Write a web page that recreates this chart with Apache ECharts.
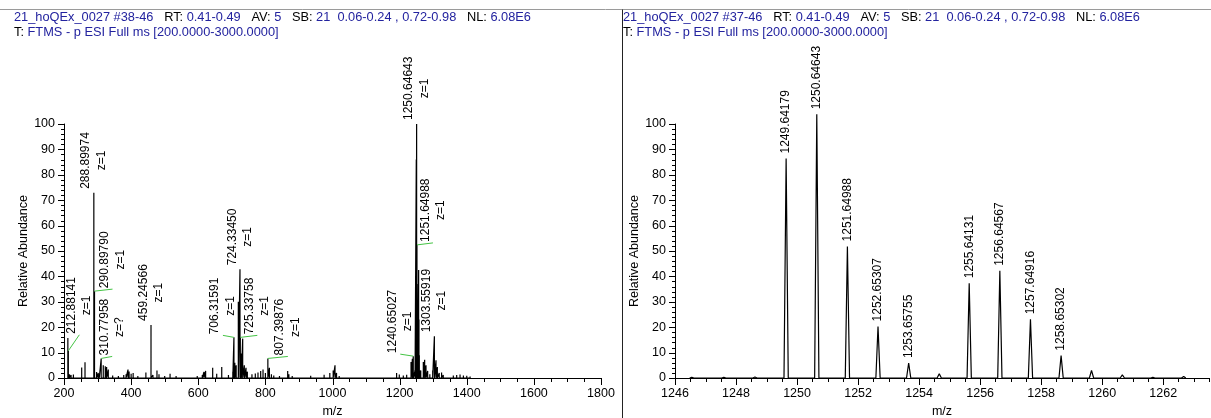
<!DOCTYPE html>
<html><head><meta charset="utf-8">
<script src="https://cdn.jsdelivr.net/npm/echarts@6/dist/echarts.min.js"></script>
<style>html,body{margin:0;padding:0;background:#fff}#c{width:1211px;height:418px}</style>
</head><body><div id="c"></div>
<script>
// ---------- data ----------
const leftMz = [211.5, 216, 221, 228, 252.7, 262.6, 297, 302, 305, 317, 323, 327, 332, 345, 362, 378, 385, 390.7, 394, 400, 406, 420, 444, 465, 477, 483, 500, 516, 534, 552, 570, 597, 612, 617, 622, 643, 655, 670, 690, 703, 709, 713, 719.4, 728.4, 732.4, 737.3, 742.3, 746.3, 760, 770, 778, 786, 793, 800, 812, 818, 825, 842, 866.5, 870, 880, 905, 935, 962, 975, 992, 1002, 1007.5, 1012, 1020, 1060, 1102, 1150, 1191, 1199, 1211, 1221, 1234, 1238, 1246, 1249.64, 1252.65, 1253.66, 1255.64, 1256.65, 1257.65, 1258.65, 1259.65, 1263, 1270.6, 1274.6, 1278.6, 1283.6, 1290, 1298.5, 1308.4, 1312.4, 1318, 1325, 1330, 1345, 1360, 1370, 1380, 1390, 1400, 1410];
const leftInt = [15.7, 1.5, 1.2, 1.4, 4.1, 6.2, 2.4, 2.0, 1.5, 5.0, 4.6, 4.3, 3.3, 1.0, 0.8, 1.2, 1.5, 3.3, 2.6, 1.7, 2.0, 0.8, 2.2, 1.2, 3.0, 1.5, 0.8, 1.7, 0.8, 0.7, 0.6, 0.8, 1.2, 2.4, 2.8, 4.0, 1.7, 4.3, 1.2, 2.5, 6.0, 5.0, 30.0, 9.6, 15.5, 5.0, 4.0, 2.5, 1.5, 1.8, 2.2, 2.8, 3.3, 2.0, 4.0, 1.5, 1.0, 0.8, 2.8, 1.5, 0.8, 0.6, 0.9, 0.6, 1.3, 2.0, 3.0, 5.0, 2.0, 0.8, 0.5, 0.6, 0.5, 2.0, 1.4, 1.0, 1.3, 6.3, 7.6, 3.0, 86.0, 20.0, 6.0, 37.0, 42.5, 23.0, 9.0, 3.0, 3.0, 6.3, 7.2, 5.0, 2.8, 1.5, 3.0, 7.0, 4.3, 2.0, 2.2, 1.2, 0.7, 1.0, 1.2, 1.4, 1.0, 0.9, 0.6];
const leftLabelMz = [212.88141, 288.89974, 290.89790, 310.77958, 459.24566, 706.31591, 724.33450, 725.33758, 807.39876, 1240.65027, 1250.64643, 1251.64988, 1303.55919];
const leftLabelInt = [10.7, 72.9, 34.2, 7.7, 20.9, 16.0, 42.8, 16.0, 7.7, 8.6, 100, 52.4, 16.4];
const leftLabelZ = ['z=1', 'z=1', 'z=1', 'z=?', 'z=1', 'z=1', 'z=1', 'z=1', 'z=1', 'z=1', 'z=1', 'z=1', 'z=1'];

const rightMz = [1246.55, 1247.6, 1248.62, 1254.66, 1259.65, 1260.66, 1261.66, 1262.67];
const rightInt = [0.3, 0.3, 0.4, 1.7, 3.0, 1.2, 0.3, 0.6];
const rightLabelMz = [1249.64179, 1250.64643, 1251.64988, 1252.65307, 1253.65755, 1255.64131, 1256.64567, 1257.64916, 1258.65302];
const rightLabelInt = [86.4, 103.8, 51.8, 20.3, 5.9, 37.3, 42.2, 23.1, 8.8];

// Axis ticks (major labels) and minor tick steps
const leftXTicks = [200, 400, 600, 800, 1000, 1200, 1400, 1600, 1800];
const rightXTicks = [1246, 1248, 1250, 1252, 1254, 1256, 1258, 1260, 1262];
const yTicks = [0, 10, 20, 30, 40, 50, 60, 70, 80, 90, 100];
const leftXMinorStep = 50, rightXMinorStep = 0.5, yMinorStep = 2;
const rightXMax = 1263.5;

const headerLeft = ['21_hoQEx_0027 #38-46', '0.41-0.49', '5', '21  0.06-0.24 , 0.72-0.98', '6.08E6'];
const headerRight = ['21_hoQEx_0027 #37-46', '0.41-0.49', '5', '21  0.06-0.24 , 0.72-0.98', '6.08E6'];
const headerScan = 'FTMS - p ESI Full ms [200.0000-3000.0000]';

// ---------- layout / style ----------
const FF = "'Liberation Sans', Arial, Helvetica, sans-serif";
const BLUE = '#23239f';
const GREEN = '#45c445';
const leftLeaders = {0: [11, -16], 2: [18, -2], 3: [11, -2], 5: [-11, -2], 7: [17, -2], 8: [20, -2], 9: [-13, -2], 11: [16, -2]};

function sticks(mz, it) {
  const idx = mz.map((_, i) => i).sort((a, b) => mz[a] - mz[b]);
  const d = [];
  idx.forEach(i => { d.push([mz[i], 0], [mz[i], it[i]], [mz[i], 0]); });
  return d;
}
function profile(mz, it, w) {
  const idx = mz.map((_, i) => i).sort((a, b) => mz[a] - mz[b]);
  const d = [];
  idx.forEach(i => { d.push([mz[i] - w, 0], [mz[i], it[i]], [mz[i] + w, 0]); });
  return d;
}
const richLbl = {
  m: {fontSize: 12, fontFamily: FF, fill: '#000', align: 'center', lineHeight: 15.5},
  z: {fontSize: 12, fontFamily: FF, fill: '#000', align: 'center', lineHeight: 15.5}
};
function labelSeries(g, mzArr, intArr, textFn, leaders, gap) {
  return {
    type: 'custom', xAxisIndex: g, yAxisIndex: g, clip: false, silent: true, z: 5, animation: false,
    data: mzArr.map((m, i) => [m, intArr[i], i]),
    renderItem(params, api) {
      const i = api.value(2);
      const p = api.coord([api.value(0), api.value(1)]);
      const off = leaders[i];
      const children = [];
      let ax = p[0], ay = p[1] - gap;
      if (off) {
        const ex = p[0] + off[0], ey = p[1] + off[1];
        children.push({type: 'line', shape: {x1: p[0], y1: p[1], x2: ex, y2: ey}, style: {stroke: GREEN, lineWidth: 1}});
        ax = ex; ay = ey - 1;
      }
      children.push({type: 'text', x: ax, y: ay, rotation: Math.PI / 2,
        style: {text: textFn(i), rich: richLbl, align: 'left', verticalAlign: 'middle', fontSize: 12, fontFamily: FF, fill: '#000'}});
      return {type: 'group', children};
    }
  };
}

// tick marks placed through the axes' scales: items [x, y, kind]
// kind 0/1: x major/minor at (v, yMin); kind 2/3: y major/minor at (xMin, v)
function tickData(xT, xMax, xStep, yT, yStep) {
  const d = [], xMin = xT[0], yMin = yT[0];
  xT.forEach(v => d.push([v, yMin, 0]));
  for (let k = 0; xMin + k * xStep <= xMax + 1e-9; k++) {
    const v = +(xMin + k * xStep).toFixed(6);
    if (!xT.includes(v)) d.push([v, yMin, 1]);
  }
  yT.forEach(v => d.push([xMin, v, 2]));
  for (let k = 0; yMin + k * yStep <= yT[yT.length - 1] + 1e-9; k++) {
    const v = +(yMin + k * yStep).toFixed(6);
    if (!yT.includes(v)) d.push([xMin, v, 3]);
  }
  return d;
}
const TICK_LEN = [7, 4, 6, 3];
function tickSeries(g, xT, xMax, xStep) {
  return {
    type: 'custom', xAxisIndex: g, yAxisIndex: g, clip: false, silent: true, z: 6, animation: false,
    data: tickData(xT, xMax, xStep, yTicks, yMinorStep),
    renderItem(params, api) {
      const kind = api.value(2);
      const p = api.coord([api.value(0), api.value(1)]);
      const len = TICK_LEN[kind];
      if (kind < 2) {
        const x = Math.round(p[0]) + 0.5, y = Math.round(p[1]);
        return {type: 'line', shape: {x1: x, y1: y, x2: x, y2: y + len}, style: {stroke: '#000', lineWidth: 1}};
      }
      const y = Math.round(p[1]) + 0.5, x = Math.round(p[0]);
      return {type: 'line', shape: {x1: x - len, y1: y, x2: x, y2: y}, style: {stroke: '#000', lineWidth: 1}};
    }
  };
}

function xAxisMain(g, ticks, max) {
  return {
    type: 'value', gridIndex: g, position: 'bottom', min: ticks[0], max: max, interval: ticks[1] - ticks[0],
    axisLine: {show: true, onZero: false, lineStyle: {color: '#000', width: 1}},
    axisTick: {show: false},
    axisLabel: {color: '#000', fontSize: 12.5, fontFamily: FF, margin: 9, formatter: v => String(v),
      showMaxLabel: max === ticks[ticks.length - 1]},
    splitLine: {show: false},
    name: 'm/z', nameLocation: 'middle', nameGap: 25,
    nameTextStyle: {color: '#000', fontSize: 12.5, fontFamily: FF}
  };
}
function yAxisMain(g) {
  return {
    type: 'value', gridIndex: g, position: 'left', min: yTicks[0], max: yTicks[yTicks.length - 1], interval: yTicks[1] - yTicks[0],
    axisLine: {show: true, onZero: false, lineStyle: {color: '#000', width: 1}},
    axisTick: {show: false},
    axisLabel: {color: '#000', fontSize: 12.5, fontFamily: FF, margin: 9, formatter: v => String(v)},
    splitLine: {show: false},
    name: 'Relative Abundance', nameLocation: 'middle', nameGap: 30,
    nameTextStyle: {color: '#000', fontSize: 12.5, fontFamily: FF}
  };
}
function headerText(x, h) {
  const richH = {b: {fill: BLUE, fontSize: 12.8, fontFamily: FF}, k: {fill: '#000', fontSize: 12.8, fontFamily: FF}};
  return [
    {type: 'text', left: x, top: 11, silent: true,
      style: {text: `{b|${h[0]}}   {k|RT:} {b|${h[1]}}   {k|AV:} {b|${h[2]}}   {k|SB:} {b|${h[3]}}   {k|NL:} {b|${h[4]}}`, rich: richH, fontSize: 12.8, fontFamily: FF}},
    {type: 'text', left: x, top: 26, silent: true,
      style: {text: `{k|T:} {b|${headerScan}}`, rich: richH, fontSize: 12.8, fontFamily: FF}}
  ];
}
const chart = echarts.init(document.getElementById('c'), null, {renderer: 'canvas'});
chart.setOption({
  animation: false,
  backgroundColor: '#fff',
  grid: [
    {left: 64, top: 124, width: 537, height: 254, outerBoundsMode: 'none'},
    {left: 675, top: 124, width: 534, height: 254, outerBoundsMode: 'none'}
  ],
  xAxis: [xAxisMain(0, leftXTicks, leftXTicks[leftXTicks.length - 1]), xAxisMain(1, rightXTicks, rightXMax)],
  yAxis: [yAxisMain(0), yAxisMain(1)],
  graphic: [
    {type: 'line', shape: {x1: 0, y1: 9.5, x2: 1211, y2: 9.5}, style: {stroke: '#9a9a9a', lineWidth: 1}, silent: true},
    {type: 'line', shape: {x1: 622.5, y1: 9.5, x2: 622.5, y2: 418}, style: {stroke: '#222', lineWidth: 1}, silent: true},
    ...headerText(14, headerLeft),
    ...headerText(623, headerRight)
  ],
  series: [
    {type: 'line', xAxisIndex: 0, yAxisIndex: 0, data: sticks(leftMz.concat(leftLabelMz), leftInt.concat(leftLabelInt)),
      symbol: 'none', lineStyle: {color: '#000', width: 1.2}, clip: false, silent: true, z: 3},
    {type: 'line', xAxisIndex: 1, yAxisIndex: 1, data: profile(rightMz.concat(rightLabelMz), rightInt.concat(rightLabelInt), 0.07),
      symbol: 'none', lineStyle: {color: '#000', width: 1.2}, clip: false, silent: true, z: 3},
    tickSeries(0, leftXTicks, leftXTicks[leftXTicks.length - 1], leftXMinorStep),
    tickSeries(1, rightXTicks, rightXMax, rightXMinorStep),
    labelSeries(0, leftLabelMz, leftLabelInt, i => `{m|${leftLabelMz[i].toFixed(5)}}\n{z|${leftLabelZ[i]}}`, leftLeaders, 4),
    labelSeries(1, rightLabelMz, rightLabelInt, i => rightLabelMz[i].toFixed(5), {}, 5)
  ]
});
</script></body></html>
